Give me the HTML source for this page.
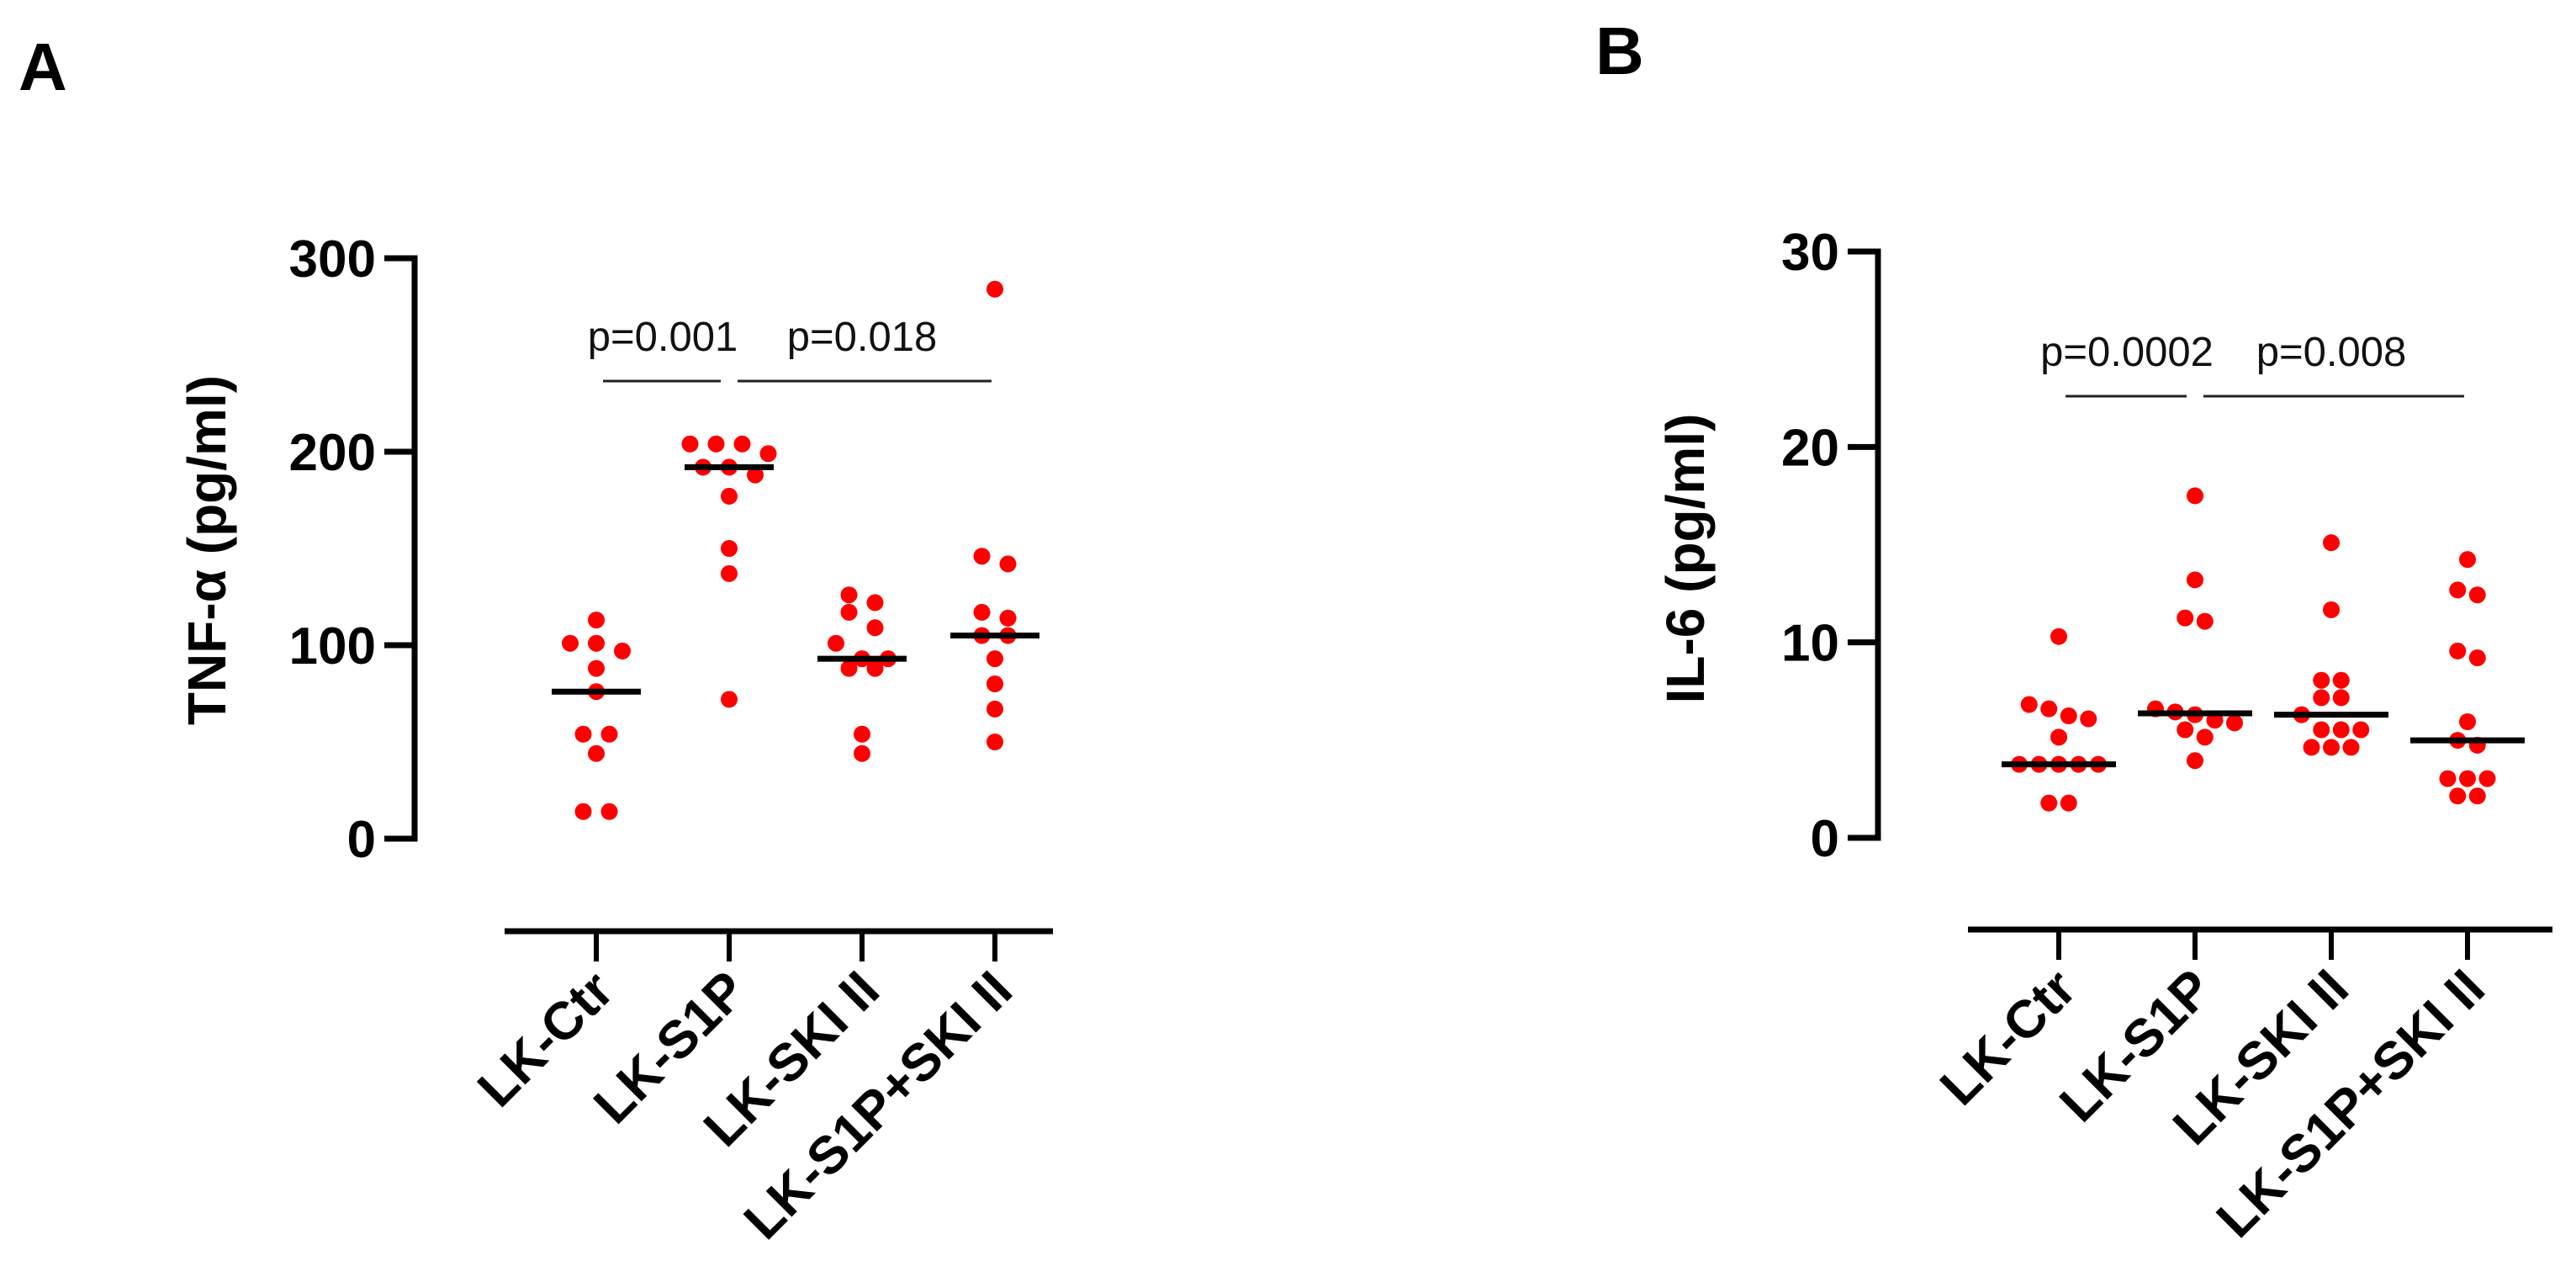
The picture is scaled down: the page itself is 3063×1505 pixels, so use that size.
<!DOCTYPE html>
<html><head><meta charset="utf-8"><style>
html,body{margin:0;padding:0;background:#fff;}
svg{display:block;font-family:"Liberation Sans",Arial,sans-serif;}
</style></head><body>
<svg id="chart" width="3063" height="1505" viewBox="0 0 3063 1505" xmlns="http://www.w3.org/2000/svg">
<text x="22" y="107" font-size="80" font-weight="bold">A</text>
<text x="1897" y="88" font-size="80" font-weight="bold">B</text>
<g id="panelA"></g>
<g id="panelB"></g>
</svg>
<script>
const categories = ["LK-Ctr", "LK-S1P", "LK-SKI II", "LK-S1P+SKI II"];
const tnfTicks = [0, 100, 200, 300];
const il6Ticks = [0, 10, 20, 30];
const tnfCtr = [113, 101, 101, 97, 88, 76, 54, 54, 44, 14, 14];
const tnfS1P = [204, 204, 204, 199, 192, 192, 188, 177, 150, 137, 72];
const tnfSKI = [126, 122, 117, 109, 101, 93, 93, 88, 88, 54, 44];
const tnfS1PSKI = [284, 146, 142, 117, 114, 105, 105, 93, 80, 67, 50];
const il6Ctr = [10.3, 6.82, 6.6, 6.24, 6.09, 5.15, 3.76, 3.76, 3.76, 3.76, 3.76, 1.78, 1.78];
const il6S1P = [17.5, 13.2, 11.25, 11.08, 6.6, 6.44, 6.3, 6.02, 5.88, 5.53, 5.15, 3.95];
const il6SKI = [15.1, 11.67, 8.06, 8.06, 7.17, 7.17, 6.3, 5.53, 5.53, 5.53, 4.63, 4.63, 4.63];
const il6S1PSKI = [14.24, 12.68, 12.43, 9.56, 9.21, 5.94, 4.99, 4.74, 3.03, 3.03, 3.03, 2.14, 2.14];
const tnfPLabels = ["p=0.001", "p=0.018"];
const il6PLabels = ["p=0.0002", "p=0.008"];
const tnfPairs = [[0, 1], [1, 3]];
const il6Pairs = [[0, 1], [1, 3]];

const NS = "http://www.w3.org/2000/svg";
function mk(parent, tag, attrs, text) {
  const e = document.createElementNS(NS, tag);
  for (const k in attrs) e.setAttribute(k, attrs[k]);
  if (text !== undefined) e.textContent = text;
  parent.appendChild(e);
  return e;
}
function median(a) {
  const s = a.slice().sort((x, y) => x - y), n = s.length;
  return n % 2 ? s[(n - 1) / 2] : (s[n / 2 - 1] + s[n / 2]) / 2;
}
function drawPanel(g, cfg) {
  const yScale = v => cfg.y0 - (v - cfg.min) / (cfg.max - cfg.min) * (cfg.y0 - cfg.yTop);
  const xScale = i => cfg.xs0 + i * cfg.xStep;
  const ya = mk(g, "line", {x1: cfg.ax, y1: cfg.yTop - 3.5, x2: cfg.ax, y2: cfg.y0 + 3.5, stroke: "#000", "stroke-width": 7});
  
  
  cfg.ticks.forEach(t => {
    const y = yScale(t);
    const tl = mk(g, "line", {x1: cfg.ax - 36, y1: y, x2: cfg.ax, y2: y, stroke: "#000", "stroke-width": 7});
    
    
    const tx = mk(g, "text", {x: cfg.ax - 46, y: y + 22, "font-size": 62, "font-weight": "bold", "text-anchor": "end"}, String(t));
    
    
  });
  const yt = mk(g, "text", {x: 0, y: 0, "font-size": 64, "font-weight": "bold", "text-anchor": "middle", transform: `translate(${cfg.titleX},${cfg.titleY}) rotate(-90)`}, cfg.title);
  
  
  const xa = mk(g, "line", {x1: cfg.xl0, y1: cfg.xAxisY, x2: cfg.xl1, y2: cfg.xAxisY, stroke: "#000", "stroke-width": 7});
  
  
  categories.forEach((c, i) => {
    const x = xScale(i);
    const tk = mk(g, "line", {x1: x, y1: cfg.xAxisY, x2: x, y2: cfg.xAxisY + 36, stroke: "#000", "stroke-width": 6});
    
    
    const lb = mk(g, "text", {x: 0, y: 0, "font-size": 63, "font-weight": "bold", "text-anchor": "end", transform: `translate(${x + 24},${cfg.xAxisY + 74}) rotate(-45)`}, c);
    
    
  });
  cfg.series.forEach((vals, i) => {
    const cx = xScale(i);
    const sorted = vals.slice().sort((a, b) => b - a);
    const groups = [];
    sorted.forEach(v => {
      const last = groups[groups.length - 1];
      if (last && Math.abs(yScale(v) - yScale(last[0])) < 19) last.push(v);
      else groups.push([v]);
    });
    groups.forEach(gr => {
      gr.forEach((v, k) => {
        const off = (k - (gr.length - 1) / 2) * cfg.spacing;
        const d = mk(g, "circle", {cx: cx + off, cy: yScale(v), r: 10, fill: "#ff0000"});
        
        
      });
    });
    const m = median(vals);
    const ml = mk(g, "line", {x1: cx - cfg.medW / 2, y1: yScale(m), x2: cx + cfg.medW / 2, y2: yScale(m), stroke: "#000", "stroke-width": 7});
    
    
  });
  cfg.pairs.forEach((p, j) => {
    const x1 = xScale(p[0]) + 8, x2 = xScale(p[1]) - 4;
    const sl = mk(g, "line", {x1: j === 0 ? x1 : x1 + 2, y1: cfg.pY, x2: j === 0 ? x2 - 6 : x2, y2: cfg.pY, stroke: "#222", "stroke-width": 3});
    
    
    const st = mk(g, "text", {x: (xScale(p[0]) + xScale(p[1])) / 2, y: cfg.pY - 36, "font-size": 49, "text-anchor": "middle", fill: "#111"}, cfg.pLabels[j]);
    
    
  });
}
drawPanel(document.getElementById("panelA"), {
  min: 0, max: 300, y0: 997, yTop: 307, ax: 493, ticks: tnfTicks,
  title: "TNF-α (pg/ml)", titleX: 268, titleY: 654,
  xl0: 600, xl1: 1252, xAxisY: 1107, xs0: 709, xStep: 158,
  series: [tnfCtr, tnfS1P, tnfSKI, tnfS1PSKI], spacing: 31, medW: 106,
  pairs: tnfPairs, pLabels: tnfPLabels, pY: 453
});
drawPanel(document.getElementById("panelB"), {
  min: 0, max: 30, y0: 996, yTop: 299, ax: 2233, ticks: il6Ticks,
  title: "IL-6 (pg/ml)", titleX: 2026, titleY: 664,
  xl0: 2340, xl1: 3035, xAxisY: 1105, xs0: 2448, xStep: 162,
  series: [il6Ctr, il6S1P, il6SKI, il6S1PSKI], spacing: 23.5, medW: 136,
  pairs: il6Pairs, pLabels: il6PLabels, pY: 471
});
</script>
</body></html>
